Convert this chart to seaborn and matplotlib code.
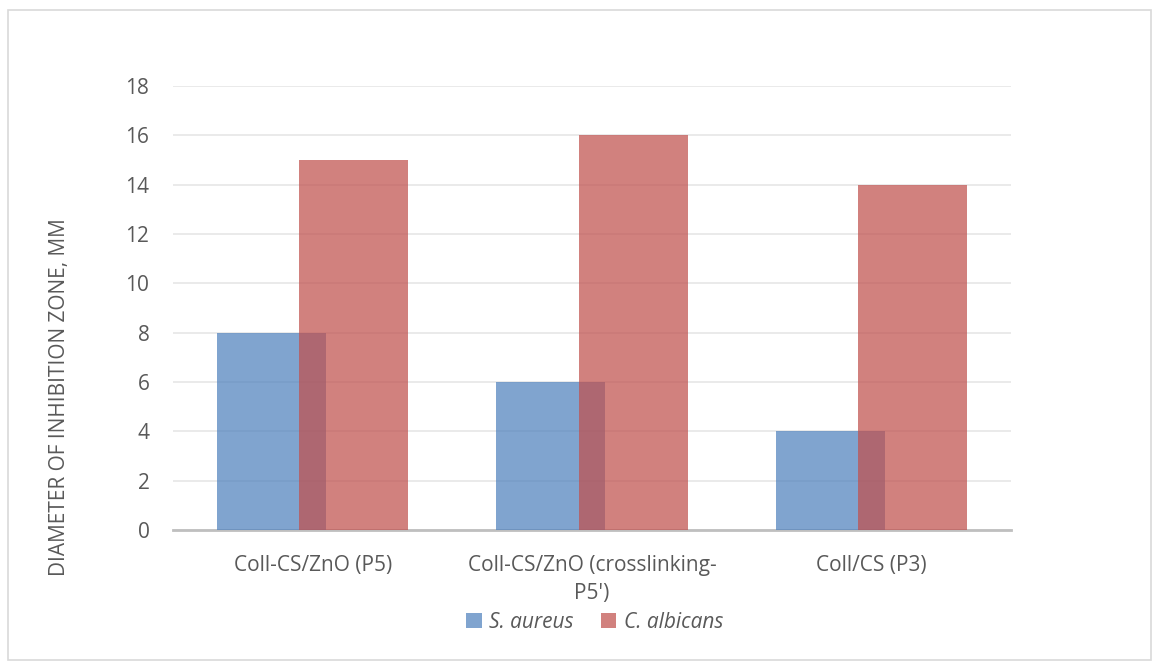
import pandas as pd
import seaborn as sns
import matplotlib.pyplot as plt
from matplotlib.patches import Rectangle

# values
samples = ["Coll-CS/ZnO (P5)", "Coll-CS/ZnO (crosslinking-\nP5')", "Coll/CS (P3)"]
s_aureus = [8, 6, 4]
c_albicans = [15, 16, 14]
strains = ["S. aureus", "C. albicans"]
colors = ["#4F81BD", "#C0504D"]

df = pd.DataFrame({
    "Sample": samples * 2,
    "Diameter": s_aureus + c_albicans,
    "Strain": [strains[0]] * 3 + [strains[1]] * 3,
})

sns.set_theme(style="white")
plt.rcParams["font.family"] = ["Open Sans", "DejaVu Sans"]

fig = plt.figure(figsize=(11.59, 6.69), dpi=100)
ax = fig.add_axes([0.1493, 0.2078, 0.7230, 0.6636])

sns.barplot(data=df, x="Sample", y="Diameter", hue="Strain", hue_order=strains,
            palette=colors, width=0.78, alpha=0.72, saturation=1, ax=ax,
            linewidth=0, zorder=3)

# Excel-style overlap: pull both series toward the category centre
overlap = 0.048
for i, cont in enumerate(ax.containers):
    shift = overlap if i == 0 else -overlap
    for bar in cont:
        bar.set_x(bar.get_x() + shift)

ax.set_ylim(0, 18)
ax.set_xlim(-0.5, 2.5)
ax.set_yticks(range(0, 19, 2))
ax.yaxis.grid(True, color="#e6e6e6", linewidth=1.2, zorder=0)
ax.set_axisbelow(True)
for side in ["top", "right", "left"]:
    ax.spines[side].set_visible(False)
ax.spines["bottom"].set_color("#bfbfbf")
ax.spines["bottom"].set_linewidth(2)
ax.tick_params(axis="y", length=0, labelsize=15, colors="#595959", pad=17)
ax.tick_params(axis="x", length=0, labelsize=15, colors="#595959", pad=18)
for t in ax.get_xticklabels():
    t.set_linespacing(1.45)
ax.set_xlabel("")
ax.set_ylabel("")
fig.text(60 / 1159, 1 - 397 / 669, "DIAMETER OF INHIBITION ZONE, MM", rotation=90,
         ha="center", va="center", fontsize=15, color="#595959")

handles, labels = ax.get_legend_handles_labels()
leg = fig.legend(handles, labels, loc="center", bbox_to_anchor=(0.513, 0.070),
                 ncol=2, frameon=False, handlelength=0.75, handleheight=0.75,
                 columnspacing=1.3, handletextpad=0.35,
                 prop={"style": "italic", "size": 15})
ax.get_legend().remove()
for t in leg.get_texts():
    t.set_color("#595959")

fig.patches.append(Rectangle((0.007, 0.013), 0.986, 0.972, transform=fig.transFigure,
                             fill=False, edgecolor="#d9d9d9", linewidth=1.2))

fig.savefig("out.png", dpi=100)
